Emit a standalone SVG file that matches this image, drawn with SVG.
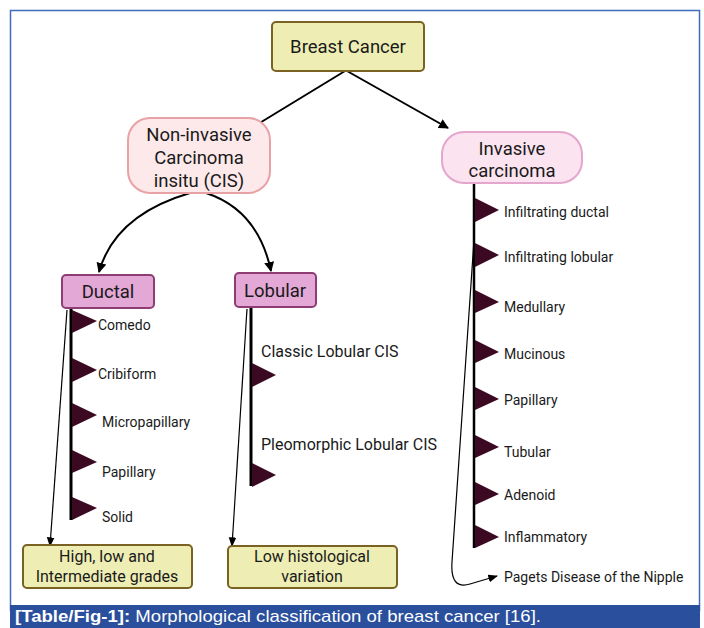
<svg xmlns="http://www.w3.org/2000/svg" width="704" height="628" viewBox="0 0 704 628">
<defs>
<style>
.t{font-family:Roboto,"Liberation Sans",sans-serif;fill:#1a1a1a;}
.big{font-size:18.5px;text-anchor:middle;}
.mid{font-size:16px;text-anchor:middle;}
.lab{font-size:14px;}
.lab2{font-size:16px;}
.yel{fill:#eeeeb4;stroke:#7a6222;stroke-width:2;}
.flag{fill:#3b0a22;}
.ln{stroke:#000;fill:none;}
</style>
<marker id="ah" viewBox="0 0 10 10" refX="9" refY="5" markerWidth="5" markerHeight="5" orient="auto-start-reverse"><path d="M0,0 L10,5 L0,10 z" fill="#000"/></marker>
<marker id="ahs" viewBox="0 0 10 10" refX="9" refY="5" markerWidth="8" markerHeight="8" orient="auto-start-reverse"><path d="M0,1 L10,5 L0,9 z" fill="#000"/></marker>
</defs>
<rect x="0" y="0" width="704" height="628" fill="#fff"/>
<rect x="10.5" y="10.5" width="689" height="600" fill="none" stroke="#3e6bbd" stroke-width="1.5"/>
<rect x="10" y="605" width="690" height="23" fill="#2a4f9c"/>
<text x="15" y="622" font-family="'Liberation Sans',Arial,sans-serif" font-size="17" fill="#fff" textLength="526" lengthAdjust="spacingAndGlyphs"><tspan font-weight="bold">[Table/Fig-1]:</tspan> Morphological classification of breast cancer [16].</text>

<g id="connectors">
<line class="ln" x1="345" y1="71" x2="258" y2="124" stroke-width="2"/>
<line class="ln" x1="347" y1="71" x2="448" y2="128" stroke-width="2" marker-end="url(#ah)"/>
<path class="ln" d="M190,193 Q115,215 99,272" stroke-width="2" marker-end="url(#ah)"/>
<path class="ln" d="M206,193 Q258,210 271,271" stroke-width="2" marker-end="url(#ah)"/>
<line class="ln" x1="71" y1="308" x2="71" y2="520" stroke-width="3"/>
<line class="ln" x1="251" y1="307" x2="251" y2="486" stroke-width="3"/>
<line class="ln" x1="474" y1="183" x2="474" y2="548" stroke-width="2.5"/>
<path class="ln" d="M67,310 L50,546" stroke-width="1.2" marker-end="url(#ahs)"/>
<path class="ln" d="M247,309 L232,546" stroke-width="1.2" marker-end="url(#ahs)"/>
<path class="ln" d="M474,240 L452,562 Q450,590 470,584 L497,576" stroke-width="1.2" marker-end="url(#ahs)"/>
</g>

<g id="breast-cancer">
<rect class="yel" x="272" y="22" width="152" height="49" rx="4"/>
<text class="t big" x="348" y="53">Breast Cancer</text>
</g>
<g id="non-invasive">
<rect x="128" y="118" width="142" height="75" rx="22" fill="#fde9ea" stroke="#e8a2a6" stroke-width="2"/>
<text class="t big" x="199" y="141">Non-invasive</text>
<text class="t big" x="199" y="164">Carcinoma</text>
<text class="t big" x="199" y="187">insitu (CIS)</text>
</g>
<g id="invasive">
<rect x="442" y="132" width="140" height="51" rx="22" fill="#fbe3f0" stroke="#e4a6cc" stroke-width="2"/>
<text class="t big" x="512" y="155">Invasive</text>
<text class="t big" x="512" y="177">carcinoma</text>
</g>
<g id="ductal">
<rect x="62" y="275" width="92" height="33" rx="4" fill="#e3a8d6" stroke="#8e3c74" stroke-width="2"/>
<text class="t big" x="108" y="298">Ductal</text>
</g>
<g id="lobular">
<rect x="235" y="273" width="81" height="34" rx="4" fill="#e3a8d6" stroke="#8e3c74" stroke-width="2"/>
<text class="t big" x="275" y="297">Lobular</text>
</g>
<g id="ductal-types">
<polygon class="flag" points="72,310 72,333 97,321"/>
<text class="t lab" x="98" y="330">Comedo</text>
<polygon class="flag" points="72,358 72,382 97,370"/>
<text class="t lab" x="98" y="379">Cribiform</text>
<polygon class="flag" points="72,403 72,427 97,415"/>
<text class="t lab" x="102" y="427">Micropapillary</text>
<polygon class="flag" points="72,450 72,473 97,462"/>
<text class="t lab" x="102" y="477">Papillary</text>
<polygon class="flag" points="72,497 72,520 97,508"/>
<text class="t lab" x="102" y="522">Solid</text>
</g>
<g id="lobular-types">
<polygon class="flag" points="252,363 252,387 276,375"/>
<text class="t lab2" x="261" y="357">Classic Lobular CIS</text>
<polygon class="flag" points="252,463 252,487 276,475"/>
<text class="t lab2" x="261" y="450">Pleomorphic Lobular CIS</text>
</g>
<g id="invasive-types">
<polygon class="flag" points="475,198 475,222 499,210"/>
<text class="t lab" x="504" y="217">Infiltrating ductal</text>
<polygon class="flag" points="475,243 475,267 499,255"/>
<text class="t lab" x="504" y="262">Infiltrating lobular</text>
<polygon class="flag" points="475,290 475,313 499,302"/>
<text class="t lab" x="504" y="312">Medullary</text>
<polygon class="flag" points="475,340 475,363 499,352"/>
<text class="t lab" x="504" y="359">Mucinous</text>
<polygon class="flag" points="475,387 475,410 499,399"/>
<text class="t lab" x="504" y="405">Papillary</text>
<polygon class="flag" points="475,435 475,458 499,447"/>
<text class="t lab" x="504" y="457">Tubular</text>
<polygon class="flag" points="475,482 475,505 499,494"/>
<text class="t lab" x="504" y="500">Adenoid</text>
<polygon class="flag" points="475,525 475,548 499,537"/>
<text class="t lab" x="504" y="542">Inflammatory</text>
<text class="t lab" x="504" y="582">Pagets Disease of the Nipple</text>
</g>
<g id="ductal-grades">
<rect class="yel" x="23" y="545" width="169" height="43" rx="4"/>
<text class="t mid" x="107" y="562">High, low and</text>
<text class="t mid" x="107" y="582">Intermediate grades</text>
</g>
<g id="lobular-variation">
<rect class="yel" x="228" y="546" width="169" height="42" rx="4"/>
<text class="t mid" x="312" y="562">Low histological</text>
<text class="t mid" x="312" y="582">variation</text>
</g>
</svg>
